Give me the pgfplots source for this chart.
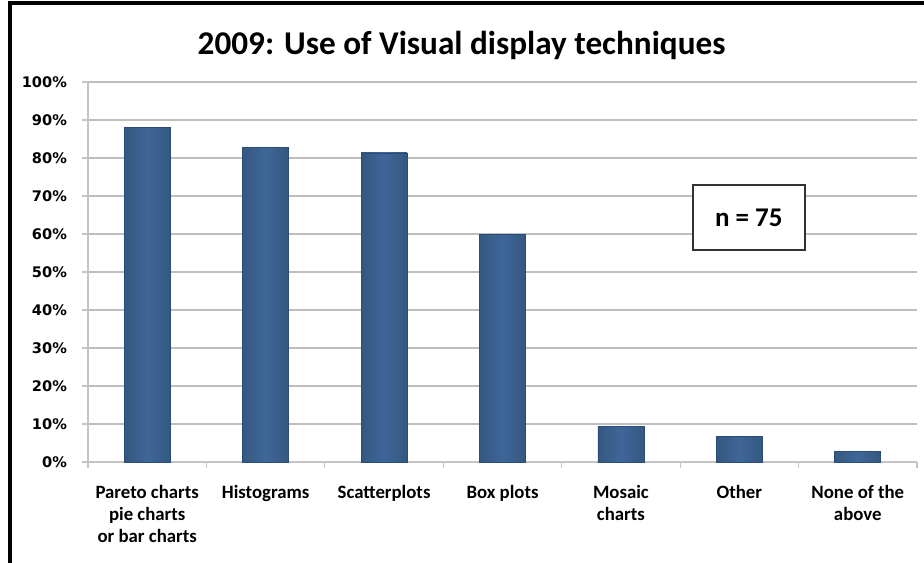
\documentclass[border=0pt]{standalone}
\usepackage{pgfplots}
\pgfplotsset{compat=1.18}
\usepackage{fontspec}
\setmainfont{Carlito}
\newfontfamily\tickfont{DejaVu Sans}
\definecolor{barblue}{HTML}{3E6699}
\definecolor{barside}{HTML}{34587F}
\definecolor{baredge}{HTML}{2C4C78}
\definecolor{gridgray}{HTML}{BEBEBE}
\definecolor{axgray}{HTML}{C4C4C4}
\begin{document}
\begin{tikzpicture}[mybar/.style={left color=barside, right color=barside, middle color=barblue, draw=baredge, line width=0.4pt}]
\useasboundingbox (-44pt,-50pt) rectangle (418pt,231pt);
\fill[white] (-44pt,-50pt) rectangle (418pt,231pt);
\draw[black, line width=1.6pt] (-39pt,-60pt) -- (-39pt,229.5pt) -- (430pt,229.5pt);
\begin{axis}[
  at={(0pt,0pt)}, anchor=south west,
  scale only axis,
  width=414.5pt, height=190pt,
  xmin=-0.5, xmax=6.5,
  ymin=0, ymax=1,
  ytick={0,0.1,...,1.01},
  yticklabels={0\%,10\%,20\%,30\%,40\%,50\%,60\%,70\%,80\%,90\%,100\%},
  xtick={0,1,2,3,4,5,6},
  xticklabels={{Pareto charts\\pie charts\\or bar charts},Histograms,Scatterplots,Box plots,{Mosaic\\charts},Other,{None of the\\above}},
  minor xtick={-0.5,0.5,1.5,2.5,3.5,4.5,5.5,6.5},
  x tick style={draw=none},
  minor x tick style={draw=axgray, line width=0.6pt},
  minor tick length=3pt,
  y tick style={draw=axgray, line width=0.6pt},
  major tick length=3pt,
  tick align=outside,
  axis lines*=left,
  axis line style={draw=axgray, line width=0.7pt, -},
  ymajorgrids,
  grid style={draw=gridgray, line width=0.6pt},
  xticklabel style={font=\bfseries\fontsize{9.4}{11}\selectfont, align=center, yshift=-5pt},
  yticklabel style={font=\tickfont\bfseries\fontsize{7.3}{9}\selectfont, xshift=-4pt},
  /pgf/number format/assume math mode=true,
  ybar, bar width=23pt, bar shift=0pt,
  clip=false,
]
\addplot[mybar] coordinates {(0,0.88)};
\addplot[mybar] coordinates {(1,0.8267)};
\addplot[mybar] coordinates {(2,0.8133)};
\addplot[mybar] coordinates {(3,0.60)};
\addplot[mybar] coordinates {(4,0.0933)};
\addplot[mybar] coordinates {(5,0.0667)};
\addplot[mybar] coordinates {(6,0.0267)};
\node[draw=black!80, fill=white, line width=0.7pt, minimum width=56pt, minimum height=32.5pt, font=\bfseries\fontsize{13.5}{15}\selectfont] at (axis cs:5.08,0.643) {n = 75};
\end{axis}
\node[font=\bfseries\fontsize{16.6}{19}\selectfont] at (186.75pt,208.5pt) {2009: Use of Visual display techniques};
\end{tikzpicture}
\end{document}
